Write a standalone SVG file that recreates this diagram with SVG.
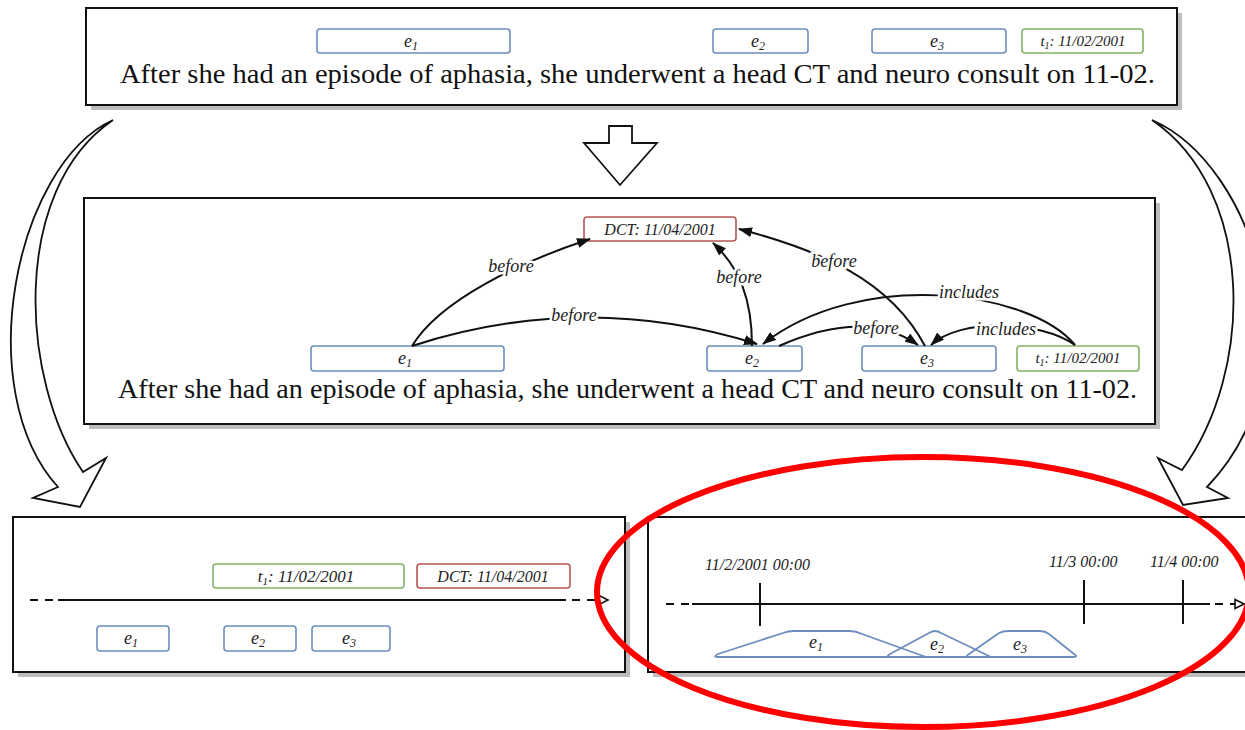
<svg xmlns="http://www.w3.org/2000/svg" width="1245" height="730" viewBox="0 0 1245 730">
  <defs>
    <marker id="arr" viewBox="0 0 14 10" refX="13" refY="5" markerWidth="14" markerHeight="10" markerUnits="userSpaceOnUse" orient="auto">
      <path d="M0,0 L14,5 L0,10 z" fill="#111"/>
    </marker>
    <marker id="open" viewBox="0 0 12 12" refX="2" refY="6" markerWidth="12" markerHeight="12" markerUnits="userSpaceOnUse" orient="auto">
      <path d="M1,1.5 L10,6 L1,10.5 z" fill="#fff" stroke="#111" stroke-width="1.6"/>
    </marker>
  </defs>
  <style>
    .panel { fill: #fff; stroke: #111; stroke-width: 2; }
    .shadow { fill: #bdbdbd; }
    .ev { fill: #fff; stroke: #6c8ebf; stroke-width: 1.6; }
    .tx { fill: #fff; stroke: #82b366; stroke-width: 1.6; }
    .dct { fill: #fff; stroke: #b85450; stroke-width: 1.6; }
    .lbl { font-family: "Liberation Serif", "Times New Roman", serif; font-style: italic; fill: #222; }
    .sent { font-family: "Liberation Serif", "Times New Roman", serif; font-size: 28px; fill: #111; }
    .edge { fill: none; stroke: #111; stroke-width: 2; marker-end: url(#arr); }
    .elbl { font-family: "Liberation Serif", "Times New Roman", serif; font-style: italic; font-size: 18px; fill: #222; text-anchor: middle; stroke: #fff; stroke-width: 5; paint-order: stroke; }
    .block { fill: #fff; stroke: #111; stroke-width: 1.8; stroke-linejoin: miter; }
    .axis { stroke: #111; stroke-width: 2; fill: none; }
    .dash { stroke: #111; stroke-width: 2; stroke-dasharray: 8 7; fill: none; }
    .hump { fill: none; stroke: #6c8ebf; stroke-width: 1.8; stroke-linejoin: round; }
  </style>

  <!-- block arrows between panels -->
  <g id="flow-arrows">
    <path class="block" d="M609,126 L632,126 L632,143 L657,143 L620,185 L584,143 L609,143 z"/>
    <path class="block" d="M113,120 C 15,165 -30,390 58,487 L33,498 L80,507 L106,458 L83,472 C 20,380 10,190 113,120 z"/>
    <path class="block" d="M1152,120 C 1255,165 1320,370 1207,487 L1228,498 L1183,505 L1158,458 L1182,470 C 1255,370 1255,190 1152,120 z"/>
  </g>

  <!-- panel 1: annotated sentence -->
  <g id="panel-text">
    <rect class="shadow" x="91" y="13" width="1091" height="97"/>
    <rect class="panel" x="86" y="8" width="1091" height="97"/>
    <g id="p1-e1"><rect class="ev" x="317" y="29" width="193" height="24" rx="3"/><text class="lbl" x="411" y="47" font-size="18" text-anchor="middle">e<tspan font-size="12" dy="3">1</tspan></text></g>
    <g id="p1-e2"><rect class="ev" x="713" y="29" width="95" height="24" rx="3"/><text class="lbl" x="758" y="47" font-size="18" text-anchor="middle">e<tspan font-size="12" dy="3">2</tspan></text></g>
    <g id="p1-e3"><rect class="ev" x="872" y="29" width="134" height="24" rx="3"/><text class="lbl" x="937" y="47" font-size="18" text-anchor="middle">e<tspan font-size="12" dy="3">3</tspan></text></g>
    <g id="p1-t1"><rect class="tx" x="1022" y="29" width="121" height="24" rx="3"/><text class="lbl" x="1083" y="46" font-size="15" text-anchor="middle">t<tspan font-size="10" dy="3">1</tspan><tspan dy="-3">: 11/02/2001</tspan></text></g>
    <text class="sent" x="120" y="83" textLength="1035" lengthAdjust="spacingAndGlyphs">After she had an episode of aphasia, she underwent a head CT and neuro consult on 11-02.</text>
  </g>

  <!-- panel 2: temporal relation graph -->
  <g id="panel-graph">
    <rect class="shadow" x="89" y="203" width="1071" height="226"/>
    <rect class="panel" x="84" y="198" width="1071" height="226"/>
    <g id="g-dct"><rect class="dct" x="584" y="217" width="152" height="24" rx="3"/><text class="lbl" x="660" y="235" font-size="16" text-anchor="middle">DCT: 11/04/2001</text></g>
    <g id="g-e1"><rect class="ev" x="311" y="346" width="193" height="25" rx="3"/><text class="lbl" x="405" y="364" font-size="18" text-anchor="middle">e<tspan font-size="12" dy="3">1</tspan></text></g>
    <g id="g-e2"><rect class="ev" x="707" y="346" width="95" height="25" rx="3"/><text class="lbl" x="752" y="364" font-size="18" text-anchor="middle">e<tspan font-size="12" dy="3">2</tspan></text></g>
    <g id="g-e3"><rect class="ev" x="862" y="346" width="134" height="25" rx="3"/><text class="lbl" x="927" y="364" font-size="18" text-anchor="middle">e<tspan font-size="12" dy="3">3</tspan></text></g>
    <g id="g-t1"><rect class="tx" x="1017" y="346" width="122" height="25" rx="3"/><text class="lbl" x="1078" y="363" font-size="15" text-anchor="middle">t<tspan font-size="10" dy="3">1</tspan><tspan dy="-3">: 11/02/2001</tspan></text></g>
    <text class="sent" x="118" y="398" textLength="1019" lengthAdjust="spacingAndGlyphs">After she had an episode of aphasia, she underwent a head CT and neuro consult on 11-02.</text>
  </g>

  <g id="graph-edges">
    <path class="edge" d="M412,346 C 440,300 520,262 590,239"/>
    <path class="edge" d="M412,346 Q 585,290 757,344"/>
    <path class="edge" d="M752,346 C 752,300 740,268 713,243"/>
    <path class="edge" d="M925,346 C 890,280 820,250 739,229"/>
    <path class="edge" d="M779,346 Q 865,308 918,345"/>
    <path class="edge" d="M1075,345 C 1030,290 860,268 763,344"/>
    <path class="edge" d="M1075,345 C 1040,320 960,318 931,345"/>
    <text class="elbl" x="511" y="272">before</text>
    <text class="elbl" x="574" y="321">before</text>
    <text class="elbl" x="739" y="283">before</text>
    <text class="elbl" x="834" y="267">before</text>
    <text class="elbl" x="876" y="334">before</text>
    <text class="elbl" x="969" y="298">includes</text>
    <text class="elbl" x="1006" y="335">includes</text>
  </g>

  <!-- panel 3: coarse timeline -->
  <g id="panel-coarse">
    <rect class="shadow" x="18" y="522" width="612" height="155"/>
    <rect class="panel" x="13" y="517" width="612" height="155"/>
    <path class="dash" d="M30,600 L58,600"/>
    <path class="axis" d="M58,600 L566,600"/>
    <path class="dash" d="M572,600 L600,600" marker-end="url(#open)"/>
    <g id="c-t1"><rect class="tx" x="213" y="564" width="191" height="24" rx="3"/><text class="lbl" x="306" y="582" font-size="17" text-anchor="middle">t<tspan font-size="11" dy="3">1</tspan><tspan dy="-3">: 11/02/2001</tspan></text></g>
    <g id="c-dct"><rect class="dct" x="417" y="564" width="153" height="24" rx="3"/><text class="lbl" x="493" y="582" font-size="16" text-anchor="middle">DCT: 11/04/2001</text></g>
    <g id="c-e1"><rect class="ev" x="97" y="626" width="72" height="25" rx="3"/><text class="lbl" x="131" y="644" font-size="18" text-anchor="middle">e<tspan font-size="12" dy="3">1</tspan></text></g>
    <g id="c-e2"><rect class="ev" x="224" y="626" width="72" height="25" rx="3"/><text class="lbl" x="258" y="644" font-size="18" text-anchor="middle">e<tspan font-size="12" dy="3">2</tspan></text></g>
    <g id="c-e3"><rect class="ev" x="312" y="626" width="78" height="25" rx="3"/><text class="lbl" x="349" y="644" font-size="18" text-anchor="middle">e<tspan font-size="12" dy="3">3</tspan></text></g>
  </g>

  <!-- panel 4: fine-grained timeline with fuzzy intervals -->
  <g id="panel-fine">
    <rect class="shadow" x="653" y="522" width="600" height="155"/>
    <rect class="panel" x="648" y="517" width="605" height="155"/>
    <path class="dash" d="M666,604 L692,604"/>
    <path class="axis" d="M692,604 L1210,604"/>
    <path class="dash" d="M1215,604 L1236,604" marker-end="url(#open)"/>
    <path class="axis" d="M760,583 L760,626 M1084,580 L1084,624 M1183,580 L1183,624"/>
    <text class="lbl" x="705" y="570" font-size="16">11/2/2001 00:00</text>
    <text class="lbl" x="1049" y="567" font-size="16">11/3 00:00</text>
    <text class="lbl" x="1150" y="567" font-size="16">11/4 00:00</text>
    <g id="f-e1"><path class="hump" d="M718,657 Q712,657 718,654 L783,633 Q788,631 794,631 L850,631 Q856,631 862,634 L926,657 z"/><text class="lbl" x="816" y="648" font-size="18" text-anchor="middle">e<tspan font-size="12" dy="3">1</tspan></text></g>
    <g id="f-e2"><path class="hump" d="M891,657 Q885,657 890,654 L929,633 Q935,629 941,633 L991,657 z"/><text class="lbl" x="937" y="650" font-size="18" text-anchor="middle">e<tspan font-size="12" dy="3">2</tspan></text></g>
    <g id="f-e3"><path class="hump" d="M970,657 Q964,657 969,654 L999,633 Q1003,631 1008,631 L1040,631 Q1045,631 1049,634 L1074,654 Q1079,657 1073,657 z"/><text class="lbl" x="1020" y="650" font-size="18" text-anchor="middle">e<tspan font-size="12" dy="3">3</tspan></text></g>
  </g>

  <!-- highlight ring -->
  <ellipse cx="923" cy="592" rx="326" ry="135" fill="none" stroke="#ff0000" stroke-width="6"/>
</svg>
